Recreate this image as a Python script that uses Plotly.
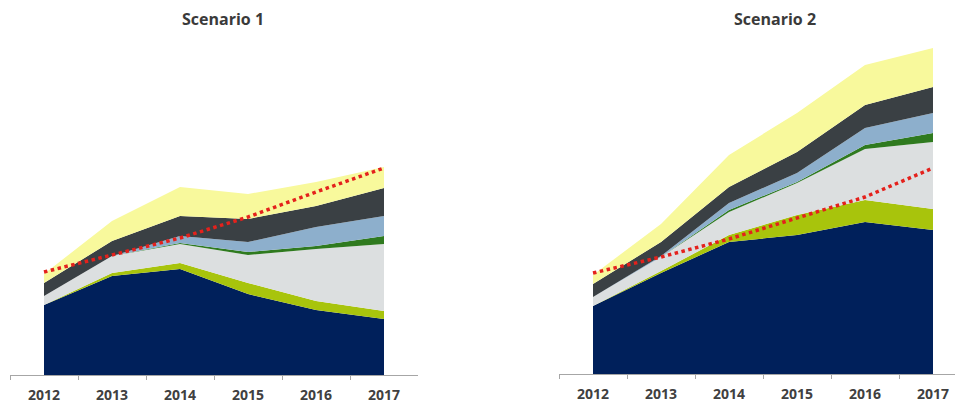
import plotly.graph_objects as go

years = ["2012", "2013", "2014", "2015", "2016", "2017"]

series_names = ["Series A", "Series B", "Series C", "Series D", "Series E", "Series F", "Series G"]
series_colors = ["#00205b", "#a8c40c", "#dcdfe0", "#2f7a1f", "#8dafcc", "#3a4044", "#f8f99c"]

# Scenario 1 (stacked, bottom to top)
s1_navy = [70, 99, 106, 81, 65, 56]
s1_lime = [0, 3, 6, 11, 9, 8]
s1_lgray = [9, 17, 19, 28, 52, 67]
s1_green = [0, 0, 1, 3, 3, 8]
s1_blue = [0, 0, 7, 10, 19, 20]
s1_dgray = [13, 15, 20, 23, 21, 28]
s1_yellow = [9, 20, 29, 25, 24, 21]
s1_target = [103, 120, 137, 158, 183, 207]

# Scenario 2 (stacked, bottom to top)
s2_navy = [68, 101, 132, 139, 152, 144]
s2_lime = [0, 2, 7, 20, 22, 21]
s2_lgray = [9, 14, 23, 32, 51, 67]
s2_green = [0, 0, 2, 1, 4, 9]
s2_blue = [0, 1, 7, 9, 17, 20]
s2_dgray = [13, 14, 16, 21, 23, 26]
s2_yellow = [9, 18, 32, 39, 40, 39]
s2_target = [101, 117, 135, 156, 177, 206]

titles = ["Scenario 1", "Scenario 2"]

fig = go.Figure()

scen = [
    ([s1_navy, s1_lime, s1_lgray, s1_green, s1_blue, s1_dgray, s1_yellow], s1_target, "x", "y", "g1"),
    ([s2_navy, s2_lime, s2_lgray, s2_green, s2_blue, s2_dgray, s2_yellow], s2_target, "x2", "y2", "g2"),
]

for stacks, target, xa, ya, grp in scen:
    for name, color, vals in zip(series_names, series_colors, stacks):
        fig.add_trace(go.Scatter(
            x=years, y=vals, name=name, mode="lines",
            stackgroup=grp, line=dict(width=0, color=color),
            fillcolor=color, xaxis=xa, yaxis=ya, showlegend=False,
        ))
    fig.add_trace(go.Scatter(
        x=years, y=target, mode="lines", name="Target",
        line=dict(color="#e4211c", width=3.5, dash="dot"),
        xaxis=xa, yaxis=ya, showlegend=False,
    ))

W, H = 955, 403
STEP = 68  # px per category
axis_common = dict(
    type="category", showline=True, linecolor="#a6a6a6", linewidth=1,
    ticks="outside", ticklen=4, tickcolor="#a6a6a6", tickson="boundaries",
    showgrid=False, zeroline=False, fixedrange=True,
    tickfont=dict(family="Open Sans", size=14, color="#404040", weight="bold"),
    ticklabelstandoff=7, ticklabeloverflow="allow",
)

fig.update_layout(
    width=W, height=H,
    margin=dict(l=0, r=0, t=0, b=0),
    paper_bgcolor="white", plot_bgcolor="white",
    xaxis=dict(domain=[10 / W, 418 / W], range=[-0.5, 5.5], anchor="y", **axis_common),
    xaxis2=dict(domain=[559 / W, 1.0], range=[-0.5, -0.5 + (W - 559) / STEP],
                anchor="y2", **axis_common),
    yaxis=dict(domain=[1 - 375 / H, 1], range=[0, 375], visible=False, showgrid=False, anchor="x"),
    yaxis2=dict(domain=[1 - 374 / H, 1], range=[0, 374], visible=False, showgrid=False, anchor="x2"),
    annotations=[
        dict(text=f"<b>{titles[0]}</b>", x=223 / W, y=1 - 19 / H, xref="paper", yref="paper",
             showarrow=False, xanchor="center", yanchor="middle",
             font=dict(family="Open Sans", size=16, color="#3a3a3a")),
        dict(text=f"<b>{titles[1]}</b>", x=775 / W, y=1 - 19 / H, xref="paper", yref="paper",
             showarrow=False, xanchor="center", yanchor="middle",
             font=dict(family="Open Sans", size=16, color="#3a3a3a")),
    ],
)

fig.write_html(
    "out.html",
    config={"displayModeBar": False},
    post_script="document.body.style.margin='0';document.body.style.overflow='hidden';",
)
